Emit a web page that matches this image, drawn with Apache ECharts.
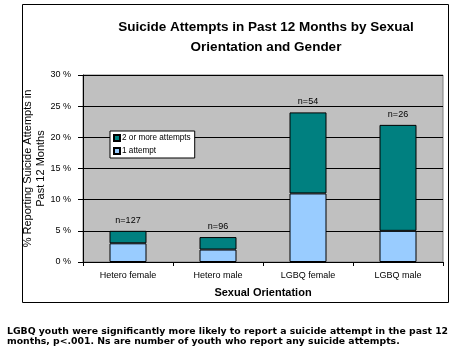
<!DOCTYPE html>
<html>
<head>
<meta charset="utf-8">
<script src="https://cdn.jsdelivr.net/npm/echarts@6/dist/echarts.min.js"></script>
<style>
html,body{margin:0;padding:0;background:#fff;}
#main{width:456px;height:351px;}
</style>
</head>
<body>
<div id="main"></div>
<script>
var categories = ['Hetero female', 'Hetero male', 'LGBQ female', 'LGBQ male'];
var oneAttempt = [3, 2, 11, 5];
var twoOrMore = [2, 2, 13, 17];
var nLabels = ['n=127', 'n=96', 'n=54', 'n=26'];

var myChart = echarts.init(document.getElementById('main'));

var topData = [];
for (var i = 0; i < twoOrMore.length; i++) {
	topData.push({ value: twoOrMore[i], label: { formatter: nLabels[i] } });
}

var option = {
	animation: false,
	textStyle: { fontFamily: 'Liberation Sans, Arial, sans-serif' },
	title: [
		{
			text: 'Suicide Attempts in Past 12 Months by Sexual\nOrientation and Gender',
			left: 261,
			top: 12,
			textAlign: 'center',
			textStyle: { fontSize: 13.5, fontWeight: 'bold', color: '#000', lineHeight: 20 }
		},
		{
			text: 'LGBQ youth were significantly more likely to report a suicide attempt in the past 12\nmonths, p<.001. Ns are number of youth who report any suicide attempts.',
			left: 2,
			top: 322,
			textStyle: { fontSize: 9.3, fontWeight: 'bold', color: '#000', lineHeight: 9.5, fontFamily: 'DejaVu Sans, Verdana, sans-serif' }
		}
	],
	graphic: [
		{
			type: 'rect',
			shape: { x: 22.5, y: 4.5, width: 426, height: 298 },
			style: { fill: 'none', stroke: '#000', lineWidth: 1 },
			z: 0
		}
	],
	legend: {
		left: 110,
		top: 131,
		orient: 'vertical',
		data: ['2 or more attempts', '1 attempt'],
		backgroundColor: '#fff',
		borderColor: '#000',
		borderWidth: 1,
		borderRadius: 0,
		padding: [3, 4, 3, 3],
		itemWidth: 6,
		itemHeight: 6,
		itemGap: 5,
		icon: 'rect',
		textStyle: { fontSize: 8.2, color: '#000', padding: [0, 0, 0, -3] }
	},
	grid: {
		show: true,
		left: 83,
		right: 13,
		top: 75,
		bottom: 89,
		backgroundColor: '#C0C0C0',
		borderColor: '#808080',
		borderWidth: 1
	},
	xAxis: {
		type: 'category',
		data: categories,
		name: 'Sexual Orientation',
		nameLocation: 'middle',
		nameGap: 25,
		nameTextStyle: { fontSize: 11, fontWeight: 'bold', color: '#000' },
		axisLine: { lineStyle: { color: '#000' } },
		axisTick: { show: true, length: 4, lineStyle: { color: '#000' } },
		axisLabel: { fontSize: 9, color: '#000', margin: 9 }
	},
	yAxis: {
		type: 'value',
		min: 0,
		max: 30,
		interval: 5,
		name: '% Reporting Suicide Attempts in\nPast 12 Months',
		nameLocation: 'middle',
		nameRotate: 90,
		nameGap: 36,
		nameMoveOverlap: false,
		nameTextStyle: { fontSize: 11, color: '#000', lineHeight: 13 },
		axisLine: { show: true, lineStyle: { color: '#000' } },
		axisTick: { show: true, length: 5, lineStyle: { color: '#000' } },
		axisLabel: { fontSize: 9, color: '#000', margin: 12, formatter: '{value} %' },
		splitLine: { show: true, lineStyle: { color: '#000', width: 1 } }
	},
	series: [
		{
			name: '1 attempt',
			type: 'bar',
			stack: 'total',
			barWidth: 37,
			itemStyle: { color: '#99CCFF', borderColor: '#000', borderWidth: 1 },
			data: oneAttempt
		},
		{
			name: '2 or more attempts',
			type: 'bar',
			stack: 'total',
			barWidth: 37,
			itemStyle: { color: '#008080', borderColor: '#000', borderWidth: 1 },
			label: { show: true, position: 'top', distance: 6, fontSize: 9, color: '#000' },
			data: topData
		}
	]
};

myChart.setOption(option);
</script>
</body>
</html>
